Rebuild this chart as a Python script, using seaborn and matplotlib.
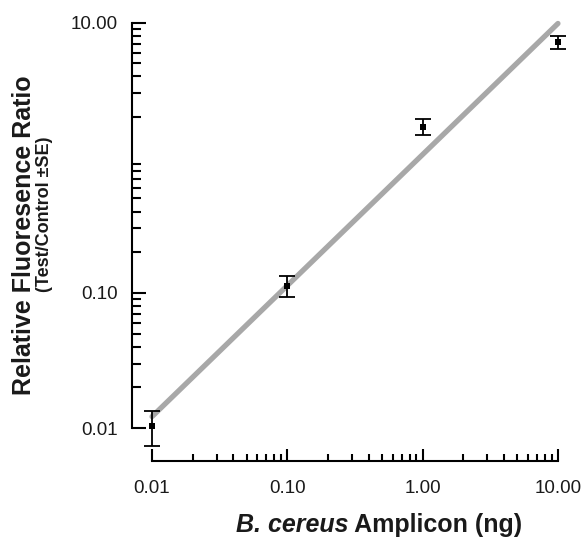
import numpy as np
import pandas as pd
import matplotlib
matplotlib.use("Agg")
import matplotlib.pyplot as plt
import seaborn as sns
from matplotlib.ticker import FixedLocator, FixedFormatter, NullFormatter

# ---- data ----
amount_ng = [0.01, 0.1, 1.0, 10.0]
ratio = [0.0104, 0.113, 1.70, 7.2]
ratio_se = [0.003, 0.02, 0.23, 0.78]

x_tick_values = [0.01, 0.1, 1.0, 10.0]
x_tick_labels = ["0.01", "0.10", "1.00", "10.00"]
y_tick_values = [0.01, 0.1, 10.0]
y_tick_labels = ["0.01", "0.10", "10.00"]

ylabel_main = "Relative Fluoresence Ratio"
ylabel_sub = "(Test/Control \u00b1SE)"
xlabel_italic = "B. cereus"
xlabel_rest = " Amplicon (ng)"

df = pd.DataFrame({"amount": amount_ng, "ratio": ratio, "se": ratio_se})

# log-log least-squares fit
slope, intercept = np.polyfit(np.log10(df["amount"]), np.log10(df["ratio"]), 1)
fit_x = np.array([df["amount"].min(), df["amount"].max()])
fit_df = pd.DataFrame({"amount": fit_x, "fit": 10 ** (intercept + slope * np.log10(fit_x))})

sns.set_theme(style="ticks")
plt.rcParams["font.family"] = ["Liberation Sans", "DejaVu Sans"]
TXT = "#1a1a1a"

fig = plt.figure(figsize=(5.81, 5.40), dpi=100)
ax = fig.add_axes([132 / 581, (540 - 461) / 540, (575 - 132) / 581, (461 - 10) / 540])
ax.set_xscale("log")
ax.set_yscale("log")

sns.lineplot(data=fit_df, x="amount", y="fit", ax=ax, color="#a8a8a8", lw=3.8,
             solid_capstyle="round", zorder=1)
ax.errorbar(df["amount"], df["ratio"], yerr=df["se"], fmt="none", ecolor="black",
            elinewidth=1.3, capsize=5.5, capthick=1.3, zorder=3)
sns.scatterplot(data=df, x="amount", y="ratio", ax=ax, marker="s", s=18,
                color="black", edgecolor="black", linewidth=0, zorder=4)

ax.set_xlim(10 ** -2.148, 10 ** 1.126)
ax.set_ylim(10 ** -2.244, 10 ** 1.094)

# spines
for s in ["top", "right"]:
    ax.spines[s].set_visible(False)
for s in ["left", "bottom"]:
    ax.spines[s].set_linewidth(1.5)
    ax.spines[s].set_color("black")
ax.spines["left"].set_bounds(0.01, 10)
ax.spines["bottom"].set_bounds(0.01, 10)

# ticks
ax.xaxis.set_major_locator(FixedLocator(x_tick_values))
ax.xaxis.set_major_formatter(FixedFormatter(x_tick_labels))
ax.yaxis.set_major_locator(FixedLocator(y_tick_values))
ax.yaxis.set_major_formatter(FixedFormatter(y_tick_labels))
minor = [k * 10.0 ** d for d in (-2, -1, 0) for k in range(2, 10)]
ax.xaxis.set_minor_locator(FixedLocator(minor))
ax.yaxis.set_minor_locator(FixedLocator(minor))
ax.xaxis.set_minor_formatter(NullFormatter())
ax.yaxis.set_minor_formatter(NullFormatter())

ax.tick_params(axis="x", which="major", direction="in", length=8.6, width=1.5,
               pad=14, labelsize=13.5, colors="black", labelcolor=TXT)
ax.tick_params(axis="x", which="minor", direction="in", length=5, width=1.5, colors="black")
ax.tick_params(axis="y", which="major", direction="in", length=10, width=1.5,
               pad=10, labelsize=13.5, colors="black", labelcolor=TXT)
ax.tick_params(axis="y", which="minor", direction="in", length=6.5, width=1.5, colors="black")

ax.set_xlabel("")
ax.set_ylabel("")

# y-axis titles
fig.text(24 / 581, 1 - 235 / 540, ylabel_main, rotation=90, ha="center", va="center",
         fontsize=18, fontweight="bold", color=TXT)
fig.text(45 / 581, 1 - 214 / 540, ylabel_sub, rotation=90, ha="center", va="center",
         fontsize=13, fontweight="bold", color=TXT)

# x-axis title with mixed italic
renderer = fig.canvas.get_renderer()
t1 = fig.text(0, 1 - 525 / 540, xlabel_italic, ha="left", va="center", fontsize=18,
              fontweight="bold", fontstyle="italic", color=TXT)
t2 = fig.text(0, 1 - 525 / 540, xlabel_rest, ha="left", va="center", fontsize=18,
              fontweight="bold", color=TXT)
w1 = t1.get_window_extent(renderer).width
w2 = t2.get_window_extent(renderer).width
center_px = 379
start = center_px - (w1 + w2) / 2
t1.set_x(start / 581)
t2.set_x((start + w1) / 581)

fig.savefig("out.png", dpi=100)
